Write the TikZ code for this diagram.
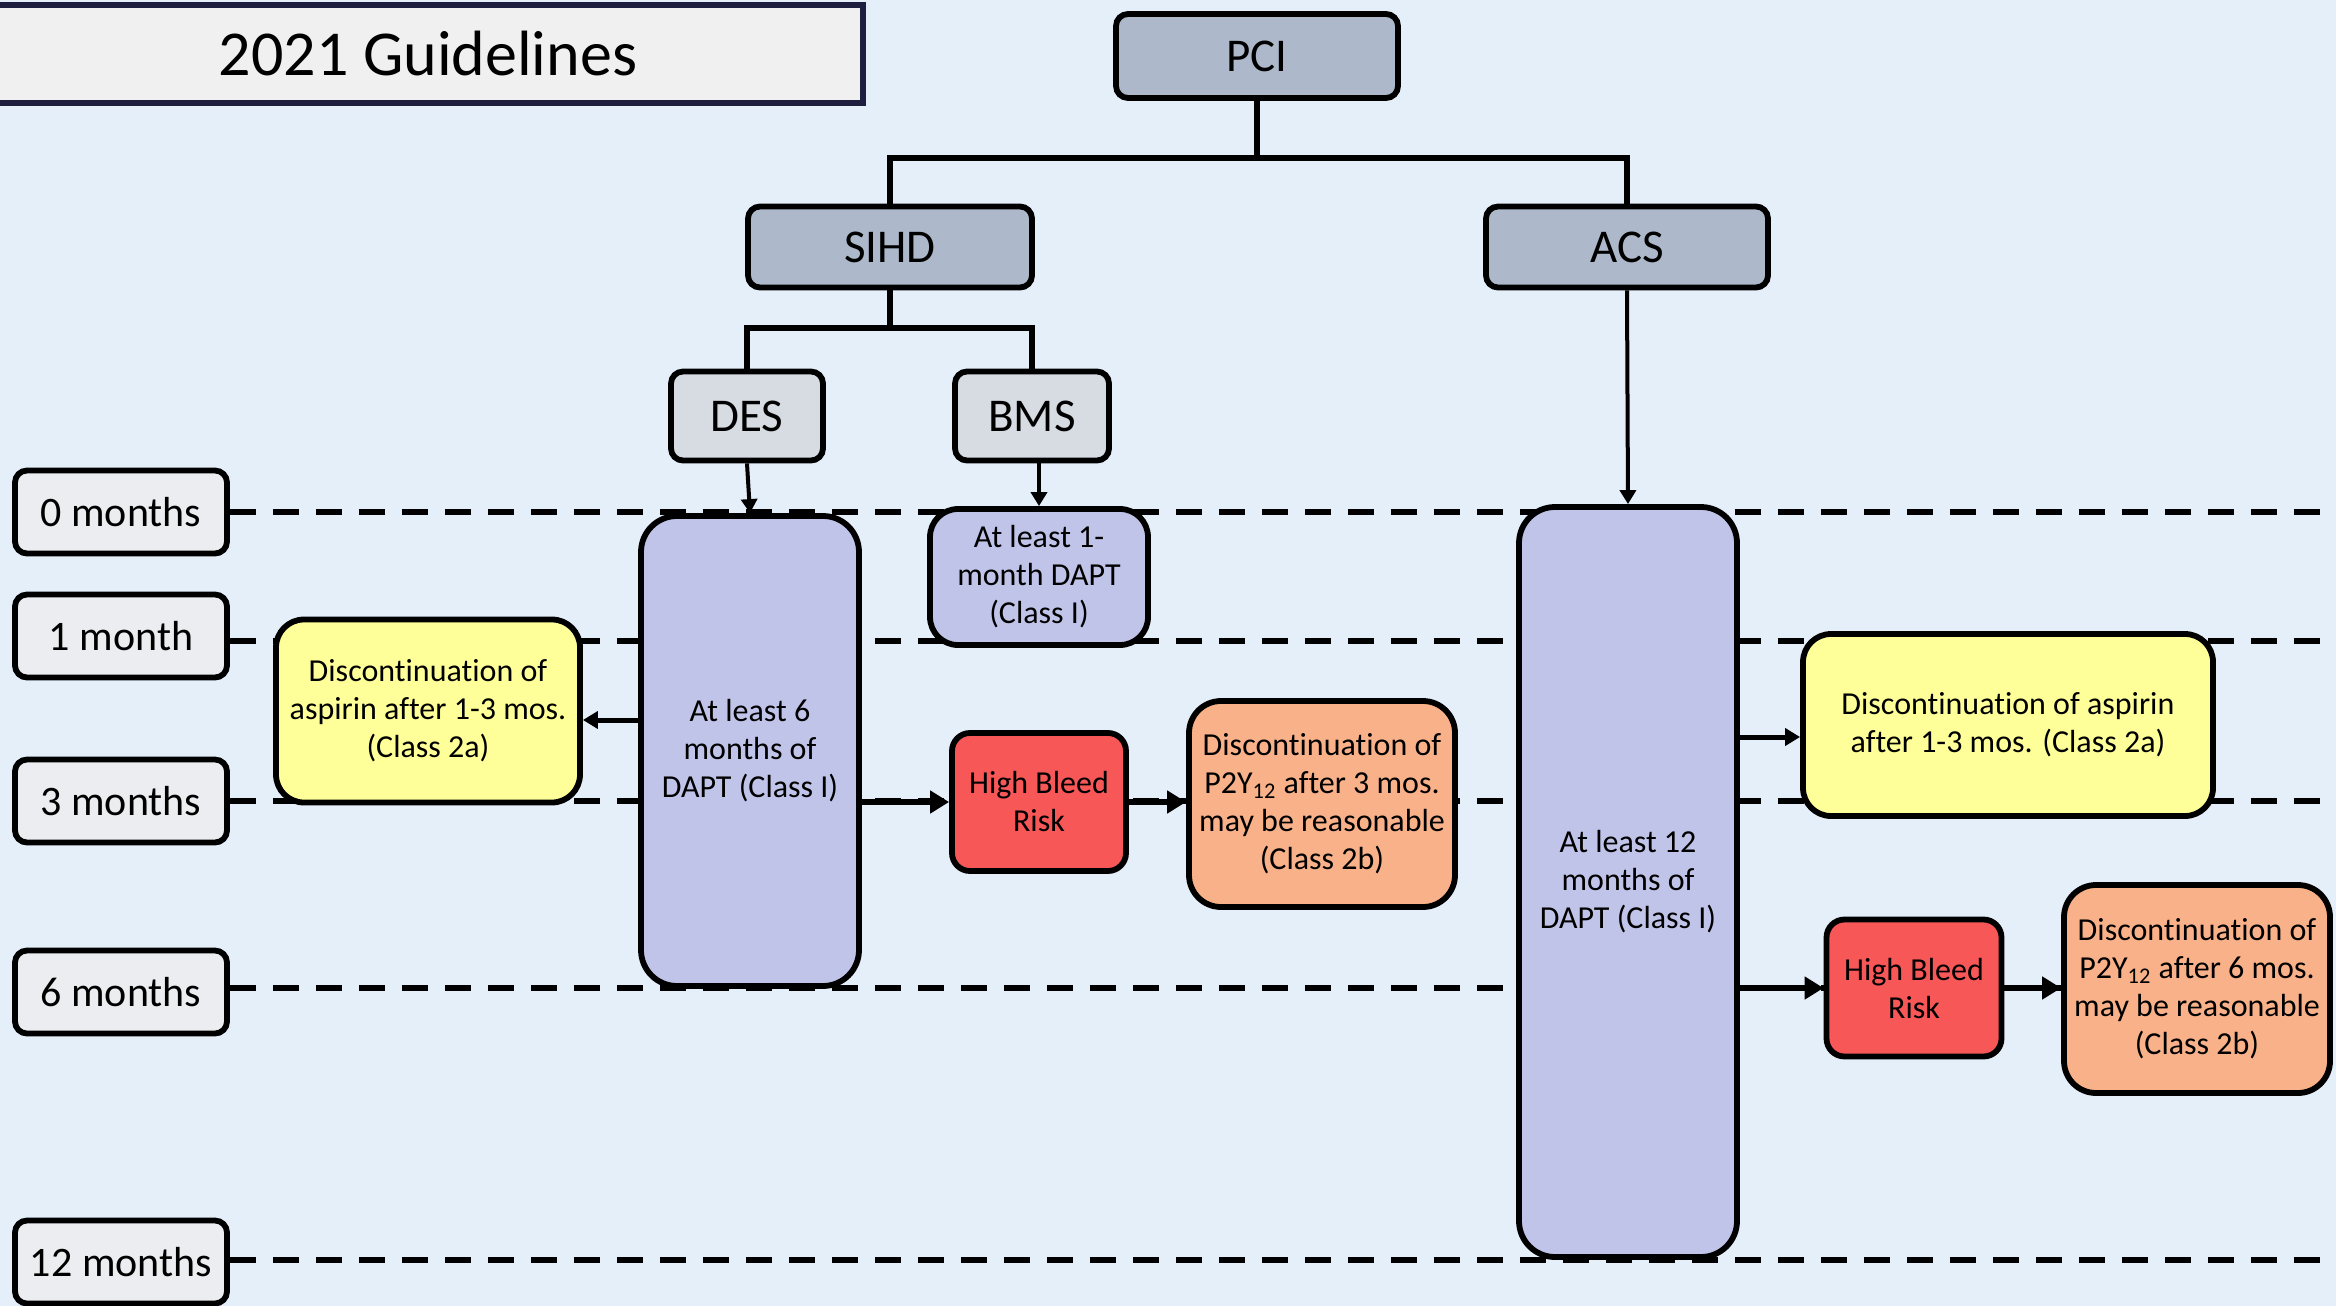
\documentclass[tikz,border=0pt]{standalone}
\usepackage{fontspec}
\setmainfont{Carlito}[RawFeature={-liga;-clig;-calt;-dlig}]
\usetikzlibrary{arrows.meta,calc}
\newcommand{\Discon}{Discont\kern0pt inuation}
\definecolor{bgc}{HTML}{E5EFFA}
\definecolor{titlefill}{HTML}{F0F0F0}
\definecolor{navy}{HTML}{1E1F40}
\definecolor{topgray}{HTML}{ADB9CA}
\definecolor{subgray}{HTML}{D7DBE2}
\definecolor{monthgray}{HTML}{ECEDF0}
\definecolor{lav}{HTML}{C1C4E9}
\definecolor{yelc}{HTML}{FFFF99}
\definecolor{redc}{HTML}{F85757}
\definecolor{orc}{HTML}{F8B189}
\begin{document}
\begin{tikzpicture}[x=0.5pt,y=-0.5pt,
  box/.style={draw=black, line width=2.9pt, align=center, inner sep=0pt, text=black},
  txt/.style={font=\fontsize{16}{19}\selectfont},
  topbox/.style={box, fill=topgray, rounded corners=6pt, font=\fontsize{23.5}{28}\selectfont},
  subbox/.style={box, fill=subgray, rounded corners=6pt, font=\fontsize{23.5}{28}\selectfont},
  monthbox/.style={box, fill=monthgray, rounded corners=6pt, minimum width=106pt, minimum height=41.5pt, font=\fontsize{21}{25}\selectfont},
  daptbox/.style={box, fill=lav, rounded corners=18pt, txt},
  yelbox/.style={box, fill=yelc, rounded corners=14pt, txt},
  redbox/.style={box, fill=redc, rounded corners=9pt, txt},
  orbox/.style={box, fill=orc, rounded corners=16pt, txt},
  tline/.style={line width=2.8pt},
  darr/.style={-{Triangle[length=7pt,width=8pt]}, line width=2pt},
  sarr/.style={-{Triangle[length=7.5pt,width=8.5pt]}, line width=2.5pt},
  barr/.style={-{Triangle[length=9.5pt,width=11pt]}, line width=3.2pt},
  dline/.style={line width=3pt, dash pattern=on 13pt off 8.5pt}
]
\fill[bgc] (0,0) rectangle (2336,1306);
\useasboundingbox (0,0) rectangle (2336,1306);

% title
\node[draw=navy, line width=3.4pt, fill=titlefill, minimum width=435pt, minimum height=49pt, inner sep=0pt,
      font=\fontsize{32}{38}\selectfont] (title) at (428,54) {2021 Guidelines};

% month labels
\node[monthbox] (m0) at (121,512) {0 months};
\node[monthbox] (m1) at (121,636) {1 month};
\node[monthbox] (m3) at (121,801) {3 months};
\node[monthbox] (m6) at (121,992) {6 months};
\node[monthbox] (m12) at (121,1262) {12 months};
\coordinate (re) at (2336,0);

% dashed time lines
\draw[dline] (m0.east) -- (m0.east -| re);
\draw[dline] (m1.east |- 0,641) -- (re |- 0,641);
\draw[dline] (m3.east) -- (m3.east -| re);
\draw[dline] (m6.east |- 0,988) -- (re |- 0,988);
\draw[dline] (m12.east |- 0,1260) -- (re |- 0,1260);

% tree
\node[topbox, minimum width=141pt, minimum height=42pt] (pci) at (1257,56) {PCI};
\node[topbox, minimum width=142pt, minimum height=40.5pt] (sihd) at (890,247) {SIHD};
\node[topbox, minimum width=141pt, minimum height=40.5pt] (acs) at (1627,247) {ACS};
\node[subbox, minimum width=76pt, minimum height=44.5pt] (des) at (747,416) {DES};
\node[subbox, minimum width=77pt, minimum height=44.5pt] (bms) at (1032,416) {BMS};

\coordinate (j1) at (1257,158);
\draw[tline] (pci.south) -- (j1);
\draw[tline] (sihd.north) |- (j1) -| (acs.north);
\coordinate (j2) at (890,328);
\draw[tline] (sihd.south) -- (j2);
\draw[tline] (des.north) |- (j2) -| (bms.north);

% DAPT boxes
\node[daptbox, minimum width=109pt, minimum height=235pt] (six) at (750,751) {At least 6\\months of\\DAPT (Class I)};
\node[daptbox, rounded corners=14pt, minimum width=109pt, minimum height=68pt] (one) at (1039,577) {At least 1-\\month DAPT\\(Class I)};
\node[daptbox, minimum width=109pt, minimum height=375pt] (twelve) at (1628,882) {At least 12\\months of\\DAPT (Class I)};

\draw[darr] (des.south) -- (six.north);
\draw[darr] (bms.south -| one.north) -- (one.north);
\draw[darr] (acs.south) -- (twelve.north);

% left side branches
\node[yelbox, minimum width=152pt, minimum height=91.5pt] (lyel) at (428,711) {\Discon{} of\\aspirin after 1-3 mos.\\(Class 2a)};
\node[redbox, minimum width=87pt, minimum height=69pt] (lred) at (1039,802) {High Bleed\\Risk};
\node[orbox, minimum width=133pt, minimum height=103pt] (lor) at (1322,804) {\Discon{} of\\P2Y\textsubscript{12} after 3 mos.\\may be reasonable\\(Class 2b)};

\draw[sarr] (six.west |- 0,720) -- (lyel.east |- 0,720);
\draw[barr] (six.east |- lred.west) -- (lred.west);
\draw[barr] (lred.east) -- (lor.west |- lred.east);

% right side branches
\node[yelbox, minimum width=205pt, minimum height=91pt] (ryel) at (2008,725) {\Discon{} of aspirin\\after 1-3 mos. (Class 2a)};
\node[redbox, minimum width=87.5pt, minimum height=68.5pt] (rred) at (1914,988) {High Bleed\\Risk};
\node[orbox, minimum width=133pt, minimum height=104pt] (ror) at (2197,989) {\Discon{} of\\P2Y\textsubscript{12} after 6 mos.\\may be reasonable\\(Class 2b)};

\draw[sarr] (twelve.east |- 0,737) -- (ryel.west |- 0,737);
\draw[barr] (twelve.east |- rred.west) -- (rred.west);
\draw[barr] (rred.east) -- (ror.west |- rred.east);
\end{tikzpicture}
\end{document}
